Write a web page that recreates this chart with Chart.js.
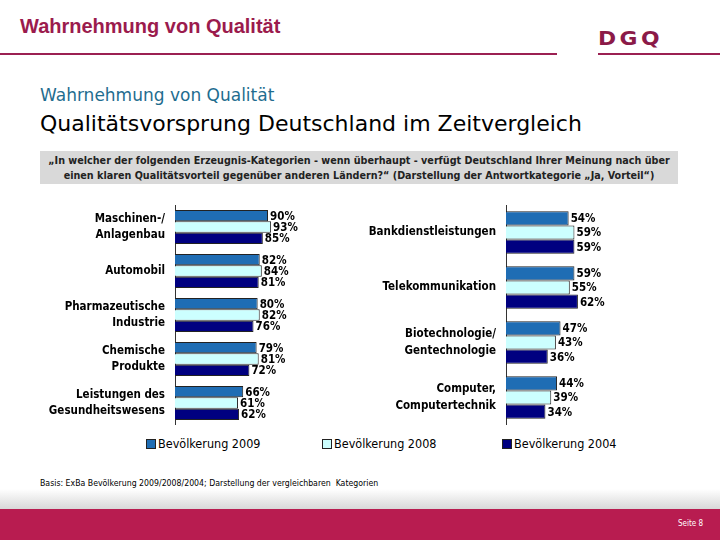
<!DOCTYPE html>
<html>
<head>
<meta charset="utf-8">
<script src="https://cdn.jsdelivr.net/npm/chart.js@4"></script>
<style>
  body { margin: 0; width: 720px; height: 540px; position: relative; overflow: hidden; background: #fff; font-family: "DejaVu Sans Condensed", "DejaVu Sans", sans-serif; }
  .abs { position: absolute; white-space: nowrap; }
  #head { left: 20px; top: 15px; font: bold 20px "Liberation Sans", Arial, sans-serif; color: #9b1b4d; }
  #line1 { left: 0; top: 53px; width: 557px; height: 2px; background: #9b2052; }
  #line2 { left: 598px; top: 53px; width: 122px; height: 2px; background: #9b2052; }
  #logo { left: 598px; top: 27px; font: bold 19px "DejaVu Sans", sans-serif; color: #8b1a48; letter-spacing: 3px; transform: scaleX(1.15); transform-origin: left top; }
  #sub { left: 40px; top: 85px; font: 17px "DejaVu Sans", sans-serif; color: #1f6d8f; }
  #title { left: 40px; top: 111px; font: 22px "DejaVu Sans", sans-serif; color: #000; }
  #question { left: 40px; top: 151px; width: 638px; height: 33px; background: #d9d9d9; font-weight: bold; font-size: 10.7px; color: #222; text-align: center; line-height: 15px; padding-top: 2px; box-sizing: border-box; }
  #legend { left: 0; top: 436px; width: 720px; height: 16px; font-size: 12.5px; color: #000; }
  .item { position: absolute; top: 0; }
  .sw { display: inline-block; width: 8px; height: 8px; border: 1px solid #222; margin-right: 2px; vertical-align: -1px; }
  #basis { left: 40px; top: 478px; font-size: 8.7px; color: #000; }
  #fade { left: 0; top: 489px; width: 720px; height: 20px; background: linear-gradient(#ffffff, #d8d8d8); }
  #band { left: 0; top: 509px; width: 720px; height: 31px; background: #b81c50; }
  #page { left: 678px; top: 519px; font-size: 8px; color: #fff; }
</style>
</head>
<body>
<div class="abs" id="fade"></div>
<div class="abs" id="band"></div>
<div class="abs" id="head">Wahrnehmung von Qualität</div>
<div class="abs" id="line1"></div>
<div class="abs" id="line2"></div>
<div class="abs" id="logo">DGQ</div>
<div class="abs" id="sub">Wahrnehmung von Qualität</div>
<div class="abs" id="title">Qualitätsvorsprung Deutschland im Zeitvergleich</div>
<div class="abs" id="question">„In welcher der folgenden Erzeugnis-Kategorien - wenn überhaupt - verfügt Deutschland Ihrer Meinung nach über<br>einen klaren Qualitätsvorteil gegenüber anderen Ländern?“ (Darstellung der Antwortkategorie „Ja, Vorteil“)</div>
<div class="abs" style="left:40px;top:205px;"><canvas id="left-chart" width="290" height="220"></canvas></div>
<div class="abs" style="left:360px;top:205px;"><canvas id="right-chart" width="320" height="220"></canvas></div>
<div class="abs" id="legend"></div>
<div class="abs" id="basis">Basis: ExBa Bevölkerung 2009/2008/2004; Darstellung der vergleichbaren&nbsp; Kategorien</div>
<div class="abs" id="page">Seite 8</div>
<script>
const leftCategories = [["Maschinen-/", "Anlagenbau"], "Automobil", ["Pharmazeutische", "Industrie"], ["Chemische", "Produkte"], ["Leistungen des", "Gesundheitswesens"]];
const left2009 = [90, 82, 80, 79, 66];
const left2008 = [93, 84, 82, 81, 61];
const left2004 = [85, 81, 76, 72, 62];

const rightCategories = ["Bankdienstleistungen", "Telekommunikation", ["Biotechnologie/", "Gentechnologie"], ["Computer,", "Computertechnik"]];
const right2009 = [54, 59, 47, 44];
const right2008 = [59, 55, 43, 39];
const right2004 = [59, 62, 36, 34];

const seriesLabels = ["Bevölkerung 2009", "Bevölkerung 2008", "Bevölkerung 2004"];
const seriesColors = ["#1f6db4", "#ccffff", "#000080"];
const legendX = [146, 322, 502];

const labelFont = '"DejaVu Sans Condensed", "DejaVu Sans", sans-serif';

// write the percentage next to the end of every bar
const valueLabels = {
  id: "valueLabels",
  afterDatasetsDraw(chart) {
    const c = chart.ctx;
    c.save();
    c.font = "bold 11.5px " + labelFont;
    c.fillStyle = "#000";
    c.textBaseline = "middle";
    chart.data.datasets.forEach((ds, i) => {
      chart.getDatasetMeta(i).data.forEach((bar, j) => {
        c.fillText(ds.data[j] + "%", bar.x + 2, bar.y + 1);
      });
    });
    c.restore();
  }
};

function makeChart(id, labels, s09, s08, s04, axisWidth, max) {
  const sets = [s09, s08, s04].map((d, i) => ({
    label: seriesLabels[i],
    data: d,
    backgroundColor: seriesColors[i],
    borderColor: "#222",
    borderWidth: 1,
    categoryPercentage: 0.77,
    barPercentage: 1
  }));
  return new Chart(document.getElementById(id), {
    type: "bar",
    data: { labels: labels, datasets: sets },
    plugins: [valueLabels],
    options: {
      indexAxis: "y",
      responsive: false,
      animation: false,
      devicePixelRatio: 1,
      layout: { padding: 0 },
      plugins: { legend: { display: false }, tooltip: { enabled: false } },
      scales: {
        x: { display: false, min: 0, max: max },
        y: {
          afterFit: s => {
            s.width = axisWidth;
            // let the two-line labels overflow instead of shrinking the plot
            s.paddingTop = 0;
            s.paddingBottom = 0;
          },
          grid: { display: false, drawTicks: false },
          border: { display: true, color: "#333", width: 1 },
          ticks: { color: "#000", padding: 10, autoSkip: false, font: { family: labelFont, size: 11.5, weight: "bold", lineHeight: 1.45 } }
        }
      }
    }
  });
}

makeChart("left-chart", leftCategories, left2009, left2008, left2004, 135, 150);
makeChart("right-chart", rightCategories, right2009, right2008, right2004, 146, 150);

const legend = document.getElementById("legend");
seriesLabels.forEach((name, i) => {
  const item = document.createElement("span");
  item.className = "item";
  item.style.left = legendX[i] + "px";
  item.innerHTML = `<span class="sw" style="background:${seriesColors[i]}"></span>${name}`;
  legend.appendChild(item);
});
</script>
</body>
</html>
